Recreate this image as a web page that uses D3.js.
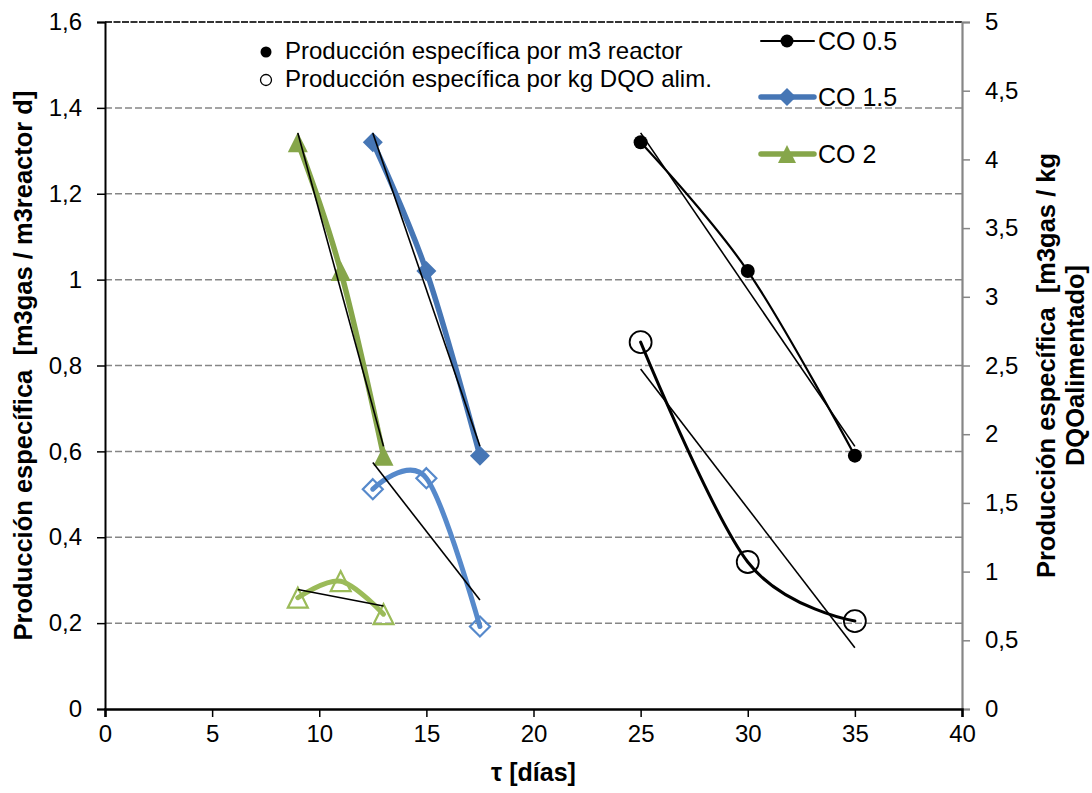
<!DOCTYPE html>
<html>
<head>
<meta charset="utf-8">
<script src="https://cdn.jsdelivr.net/npm/d3@7"></script>
<style>
  html, body { margin: 0; padding: 0; background: #fff; }
  svg text { font-family: "Liberation Sans", Arial, sans-serif; fill: #000; white-space: pre; }
</style>
</head>
<body>
<svg id="chart" width="1092" height="793"></svg>
<script>
// ---- data ----
const tau05 = [25, 30, 35];
const tau15 = [12.5, 15, 17.5];
const tau2  = [9, 11, 13];
// specific production per m3 reactor (left axis)
const reactor05 = [1.32, 1.02, 0.59];
const reactor15 = [1.32, 1.02, 0.59];
const reactor2  = [1.32, 1.02, 0.59];
// specific production per kg DQO fed (right axis)
const dqo05 = [2.67, 1.07, 0.64];
const dqo15 = [1.60, 1.68, 0.60];
const dqo2  = [0.81, 0.93, 0.69];

const xTicks = [0, 5, 10, 15, 20, 25, 30, 35, 40];
const yLeftTicks = [0, 0.2, 0.4, 0.6, 0.8, 1, 1.2, 1.4, 1.6];
const yRightTicks = [0, 0.5, 1, 1.5, 2, 2.5, 3, 3.5, 4, 4.5, 5];
const seriesNames = ["CO 0.5", "CO 1.5", "CO 2"];
const legendMarkerTexts = ["Producción específica por m3 reactor", "Producción específica por kg DQO alim."];

// ---- layout ----
const svg = d3.select("#chart");
const L = 105, R = 962, T = 22, B = 709;
const x = d3.scaleLinear().domain([0, 40]).range([L, R]);
const yL = d3.scaleLinear().domain([0, 1.6]).range([B, T]);
const yR = d3.scaleLinear().domain([0, 5]).range([B, T]);
const fmt = d => String(Math.round(d * 10) / 10).replace(".", ",");

// gridlines
svg.append("g").selectAll("line").data(yLeftTicks.filter(d => d > 0 && d < 1.6)).join("line")
  .attr("x1", L).attr("x2", R).attr("y1", d => yL(d)).attr("y2", d => yL(d))
  .attr("stroke", "#868686").attr("stroke-width", 1.5).attr("stroke-dasharray", "7,3");
svg.append("line").attr("x1", L).attr("x2", R).attr("y1", yL(1.6)).attr("y2", yL(1.6))
  .attr("stroke", "#333").attr("stroke-width", 1.8).attr("stroke-dasharray", "7,1.5");

// axes
const axL = svg.append("g").attr("transform", `translate(${L},0)`)
  .call(d3.axisLeft(yL).tickValues(yLeftTicks).tickSize(8).tickPadding(15).tickFormat(fmt));
const axR = svg.append("g").attr("transform", `translate(${R},0)`)
  .call(d3.axisRight(yR).tickValues(yRightTicks).tickSize(8).tickPadding(15).tickFormat(fmt));
const axB = svg.append("g").attr("transform", `translate(0,${B})`)
  .call(d3.axisBottom(x).tickValues(xTicks).tickSize(8).tickPadding(8).tickFormat(d => d));
[axL, axR, axB].forEach(a => {
  a.selectAll("text").attr("font-size", 24).attr("font-family", '"Liberation Sans", Arial, sans-serif').attr("fill", "#000");
});
axL.select(".domain").attr("stroke", "#000").attr("stroke-width", 2);
axL.selectAll(".tick line").attr("stroke", "#000").attr("stroke-width", 1.5);
axR.select(".domain").attr("stroke", "#868686").attr("stroke-width", 2.2);
axR.selectAll(".tick line").attr("stroke", "#868686").attr("stroke-width", 1.5);
axB.select(".domain").attr("stroke", "#000").attr("stroke-width", 2.5);
axB.selectAll(".tick line").attr("stroke", "#000").attr("stroke-width", 1.5);

// axis titles
svg.append("text").attr("transform", `translate(32,${(T + B) / 2}) rotate(-90)`)
  .attr("text-anchor", "middle").attr("font-size", 25.5).attr("font-weight", "bold")
  .text("Producción específica  [m3gas / m3reactor d]");
svg.append("text").attr("transform", `translate(1055,${(T + B) / 2}) rotate(-90)`)
  .attr("text-anchor", "middle").attr("font-size", 25.5).attr("font-weight", "bold")
  .text("Producción específica  [m3gas / kg");
svg.append("text").attr("transform", `translate(1084,${(T + B) / 2}) rotate(-90)`)
  .attr("text-anchor", "middle").attr("font-size", 25.5).attr("font-weight", "bold")
  .text("DQOalimentado]");
svg.append("text").attr("x", (L + R) / 2).attr("y", 781).attr("text-anchor", "middle")
  .attr("font-size", 25).attr("font-weight", "bold").text("τ [días]");

// ---- series ----
const curve = d3.curveCardinal.tension(0);
const diamond = h => `M0,${-h}L${h},0L0,${h}L${-h},0Z`;
const triangle = h => `M0,${-h}L${h},${h}L${-h},${h}Z`;

function linreg(xs, ys) {
  const n = xs.length, mx = d3.mean(xs), my = d3.mean(ys);
  let sxy = 0, sxx = 0;
  for (let i = 0; i < n; i++) { sxy += (xs[i] - mx) * (ys[i] - my); sxx += (xs[i] - mx) ** 2; }
  const b = sxy / sxx, a = my - b * mx;
  return xv => a + b * xv;
}

const series = [
  { xs: tau2,  ys: dqo2,      y: yR, color: "#9bbb59", w: 5,   marker: "tri",  h: 10, open: true },
  { xs: tau2,  ys: reactor2,  y: yL, color: "#86a64a", w: 5.5, marker: "tri",  h: 10, open: false },
  { xs: tau15, ys: dqo15,     y: yR, color: "#5689cb", w: 5,   marker: "dia",  h: 10, open: true },
  { xs: tau15, ys: reactor15, y: yL, color: "#4676b5", w: 5.5, marker: "dia",  h: 10, open: false },
  { xs: tau05, ys: dqo05,     y: yR, color: "#000",    w: 3,   marker: "circ", h: 11, open: true },
  { xs: tau05, ys: reactor05, y: yL, color: "#000",    w: 2.2, marker: "circ", h: 7,  open: false },
];

const gS = svg.append("g");
series.forEach(s => {
  const pts = s.xs.map((v, i) => [x(v), s.y(s.ys[i])]);
  gS.append("path").attr("d", d3.line().curve(curve)(pts))
    .attr("fill", "none").attr("stroke", s.color).attr("stroke-width", s.w).attr("stroke-linecap", "round");
  pts.forEach(p => {
    let m;
    if (s.marker === "circ") m = gS.append("circle").attr("cx", p[0]).attr("cy", p[1]).attr("r", s.h);
    else m = gS.append("path").attr("transform", `translate(${p[0]},${p[1]})`)
      .attr("d", s.marker === "dia" ? diamond(s.h) : triangle(s.h));
    if (s.open) m.attr("fill", "none").attr("stroke", s.color).attr("stroke-width", s.marker === "circ" ? 1.8 : 2.2);
    else m.attr("fill", s.color);
  });
});

// linear trend lines
series.forEach(s => {
  const f = linreg(s.xs, s.ys);
  const x0 = d3.min(s.xs), x1 = d3.max(s.xs);
  svg.append("line").attr("x1", x(x0)).attr("y1", s.y(f(x0))).attr("x2", x(x1)).attr("y2", s.y(f(x1)))
    .attr("stroke", "#000").attr("stroke-width", 1.6);
});

// ---- legends ----
const lg1 = svg.append("g");
lg1.append("circle").attr("cx", 266).attr("cy", 52).attr("r", 5.5).attr("fill", "#000");
lg1.append("circle").attr("cx", 266).attr("cy", 80).attr("r", 5.5).attr("fill", "none").attr("stroke", "#000").attr("stroke-width", 1.3);
lg1.selectAll("text").data(legendMarkerTexts).join("text")
  .attr("x", 285).attr("y", (d, i) => 59 + i * 28).attr("font-size", 24).text(d => d);

const lg2 = [
  { y: 41,  color: "#000",    w: 2,   marker: "circ" },
  { y: 97,  color: "#4676b5", w: 5.5, marker: "dia" },
  { y: 154, color: "#86a64a", w: 5.5, marker: "tri" },
];
lg2.forEach((d, i) => {
  svg.append("line").attr("x1", 761).attr("x2", 814).attr("y1", d.y).attr("y2", d.y)
    .attr("stroke", d.color).attr("stroke-width", d.w).attr("stroke-linecap", "round");
  if (d.marker === "circ") svg.append("circle").attr("cx", 787).attr("cy", d.y).attr("r", 6.5).attr("fill", d.color);
  else svg.append("path").attr("transform", `translate(787,${d.y})`)
    .attr("d", d.marker === "dia" ? diamond(9) : triangle(9)).attr("fill", d.color);
  svg.append("text").attr("x", 818).attr("y", d.y + 8.5).attr("font-size", 25).text(seriesNames[i]);
});
</script>
</body>
</html>
